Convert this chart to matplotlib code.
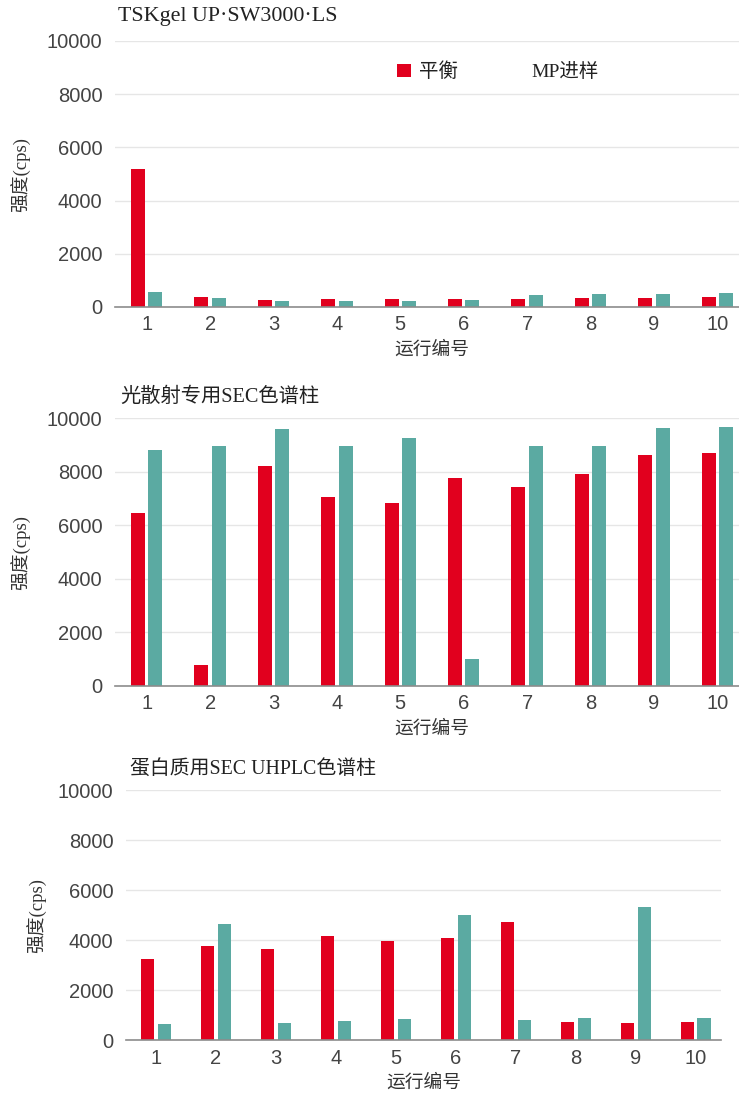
import matplotlib
matplotlib.use("Agg")
import matplotlib.pyplot as plt
from matplotlib.patches import Patch
import numpy as np

# Run numbers and measured intensities (cps)
runs = ["1", "2", "3", "4", "5", "6", "7", "8", "9", "10"]

up_sw_equil = [5200, 380, 260, 310, 310, 300, 300, 350, 325, 375]
up_sw_mp = [550, 320, 240, 220, 210, 250, 450, 475, 475, 525]

ls_sec_equil = [6440, 775, 8210, 7040, 6850, 7760, 7430, 7930, 8640, 8690]
ls_sec_mp = [8820, 8980, 9600, 8980, 9270, 990, 8980, 8980, 9650, 9690]

protein_equil = [3250, 3760, 3640, 4150, 3960, 4090, 4720, 730, 690, 730]
protein_mp = [670, 4650, 690, 770, 870, 5000, 810, 890, 5330, 900]

titles = ["TSKgel UP·SW3000·LS", "光散射专用SEC色谱柱", "蛋白质用SEC UHPLC色谱柱"]
legend_labels = ["平衡", "MP进样"]
ylabel = "强度(cps)"
xlabel = "运行编号"
yticks = [0, 2000, 4000, 6000, 8000, 10000]

RED = "#E1001E"
TEAL = "#5BAAA2"
SERIF = ["Liberation Serif", "Noto Sans CJK SC"]
SANS = ["Liberation Sans", "DejaVu Sans"]

W, H = 739, 1093
fig = plt.figure(figsize=(W / 100, H / 100), dpi=100)


def px_axes(left, right, top, bottom):
    return fig.add_axes([left / W, 1 - bottom / H, (right - left) / W, (bottom - top) / H])


panels = [
    dict(box=(115, 749, 41, 307), xmax=9.5, data=(up_sw_equil, up_sw_mp), title=titles[0],
         title_xy=(118, 17), title_size=15.8, ylab_x=-0.1325),
    dict(box=(115, 749, 418.3, 685.7), xmax=9.5, data=(ls_sec_equil, ls_sec_mp), title=titles[1],
         title_xy=(120, 397), title_size=14.6, ylab_x=-0.1325),
    dict(box=(126, 721, 790, 1040.3), xmax=9.42, data=(protein_equil, protein_mp), title=titles[2],
         title_xy=(130, 769), title_size=14.3, ylab_x=-0.133),
]

x = np.arange(len(runs))
width = 0.22
offset = 0.138
axes = []
for p in panels:
    ax = px_axes(*p["box"])
    equil, mp = p["data"]
    ax.bar(x - offset, equil, width, color=RED, zorder=3)
    ax.bar(x + offset, mp, width, color=TEAL, zorder=3)
    ax.set_xlim(-0.5, p["xmax"])
    ax.set_ylim(0, 10000)
    ax.set_yticks(yticks)
    ax.set_xticks(x)
    ax.set_xticklabels(runs)
    ax.grid(axis="y", color="#e6e6e6", lw=1.0, zorder=0)
    ax.set_axisbelow(True)
    for s in ("top", "right", "left"):
        ax.spines[s].set_visible(False)
    ax.spines["bottom"].set_color("#8c8c8c")
    ax.spines["bottom"].set_linewidth(1.2)
    ax.spines["bottom"].set_zorder(4)
    ax.tick_params(axis="both", length=0, labelsize=14.5, labelcolor="#444444")
    ax.tick_params(axis="y", pad=9)
    ax.tick_params(axis="x", pad=6)
    for lab in ax.get_xticklabels() + ax.get_yticklabels():
        lab.set_fontfamily(SANS)
    ax.set_ylabel(ylabel, fontsize=13.5, family=SERIF, color="#333333")
    ax.yaxis.set_label_coords(p["ylab_x"], 0.5)
    ax.set_xlabel(xlabel, fontsize=13.5, family=SERIF, color="#333333", labelpad=5)
    fig.text(p["title_xy"][0] / W, 1 - p["title_xy"][1] / H, p["title"], fontsize=p["title_size"],
             family=SERIF, color="#222222", ha="left", va="center")
    axes.append(ax)

handles = [Patch(facecolor=RED, edgecolor="none"), Patch(facecolor="none", edgecolor="none")]
leg = axes[0].legend(handles, legend_labels, loc="center left",
                     bbox_to_anchor=((397 - 115) / 634, (307 - 72) / 266),
                     ncol=2, frameon=False, handlelength=0.7, handleheight=0.7,
                     handletextpad=0.45, columnspacing=2.6, borderpad=0, borderaxespad=0,
                     prop={"family": SERIF, "size": 14})
for t in leg.get_texts():
    t.set_color("#222222")

fig.savefig("out.png", dpi=100)
